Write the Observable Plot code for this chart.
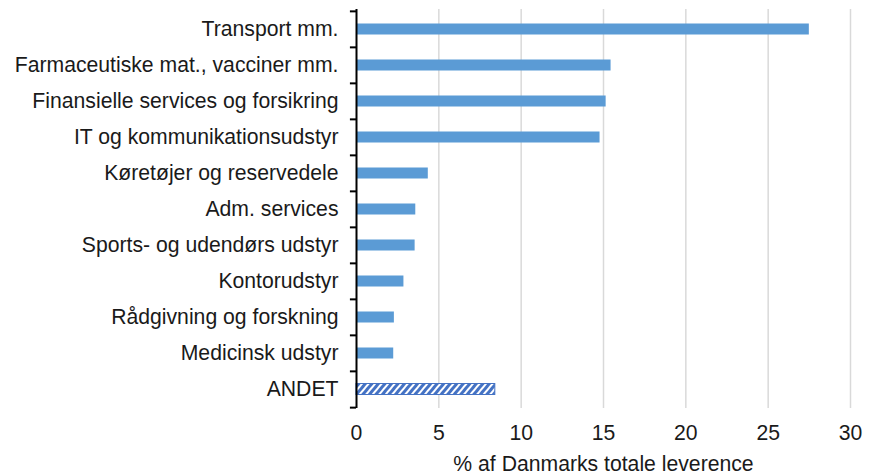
<!DOCTYPE html>
<html>
<head>
<meta charset="utf-8">
<script src="https://cdn.jsdelivr.net/npm/d3@7"></script>
<script src="https://cdn.jsdelivr.net/npm/@observablehq/plot@0.6"></script>
<style>
  html, body { margin: 0; padding: 0; background: #fff; }
</style>
</head>
<body>
<div id="chart"></div>
<script>
const categories = [
  "Transport mm.",
  "Farmaceutiske mat., vacciner mm.",
  "Finansielle services og forsikring",
  "IT og kommunikationsudstyr",
  "Køretøjer og reservedele",
  "Adm. services",
  "Sports- og udendørs udstyr",
  "Kontorudstyr",
  "Rådgivning og forskning",
  "Medicinsk udstyr",
  "ANDET"
];
const values = [27.5, 15.46, 15.16, 14.79, 4.36, 3.6, 3.56, 2.88, 2.3, 2.26, 8.43];
const xTicks = [0, 5, 10, 15, 20, 25, 30];
const xLabel = "% af Danmarks totale leverence";
const otherCategory = "ANDET";

const data = categories.map((c, i) => ({cat: c, value: values[i]}));
const W = 871, H = 474;
const mTop = 9, mBottom = 66, mLeft = 356, mRight = 21;
const band = (H - mTop - mBottom) / categories.length;
const FS = 21.2;

const plot = Plot.plot({
  width: W,
  height: H,
  marginTop: mTop,
  marginBottom: mBottom,
  marginLeft: mLeft,
  marginRight: mRight,
  style: {fontFamily: "'Liberation Sans', Arial, sans-serif", fontSize: FS + "px", color: "#1a1a1a", background: "#fff"},
  x: {domain: [0, 30], ticks: xTicks},
  y: {domain: categories, padding: 0},
  marks: [
    Plot.ruleX(xTicks.filter(d => d > 0), {stroke: "#d9d9d9", strokeWidth: 1.5}),
    Plot.barX(data.filter(d => d.cat !== otherCategory), {x: "value", y: "cat", fill: "#5b9bd5", insetTop: 12.5, insetBottom: 12.5}),
    Plot.barX(data.filter(d => d.cat === otherCategory), {x: "value", y: "cat", fill: "url(#hatch)", stroke: "#4472c4", strokeWidth: 1, insetTop: 12.5, insetBottom: 12.5}),
    Plot.ruleX([0], {stroke: "#000", strokeWidth: 2}),
    Plot.ruleY(categories, {y: d => d, x1: -0.37, x2: 0, dy: -band / 2, stroke: "#000", strokeWidth: 2}),
    Plot.ruleY(categories.slice(-1), {y: d => d, x1: -0.37, x2: 0, dy: band / 2, stroke: "#000", strokeWidth: 2}),
    Plot.axisX({ticks: xTicks, tickSize: 0, tickPadding: 16, label: null, fontSize: FS}),
    Plot.axisY({tickSize: 0, tickPadding: 18, label: null, fontSize: FS}),
    Plot.text([xLabel], {frameAnchor: "bottom", dy: 62, fontSize: FS, fill: "#1a1a1a"})
  ]
});

const svg = d3.select(plot);
const defs = svg.insert("defs", ":first-child");
const pat = defs.append("pattern")
  .attr("id", "hatch")
  .attr("patternUnits", "userSpaceOnUse")
  .attr("width", 5)
  .attr("height", 5)
  .attr("patternTransform", "rotate(40)");
pat.append("rect").attr("width", 5).attr("height", 5).attr("fill", "#fff");
pat.append("rect").attr("width", 3).attr("height", 5).attr("fill", "#4472c4");

document.getElementById("chart").appendChild(plot);
</script>
</body>
</html>
